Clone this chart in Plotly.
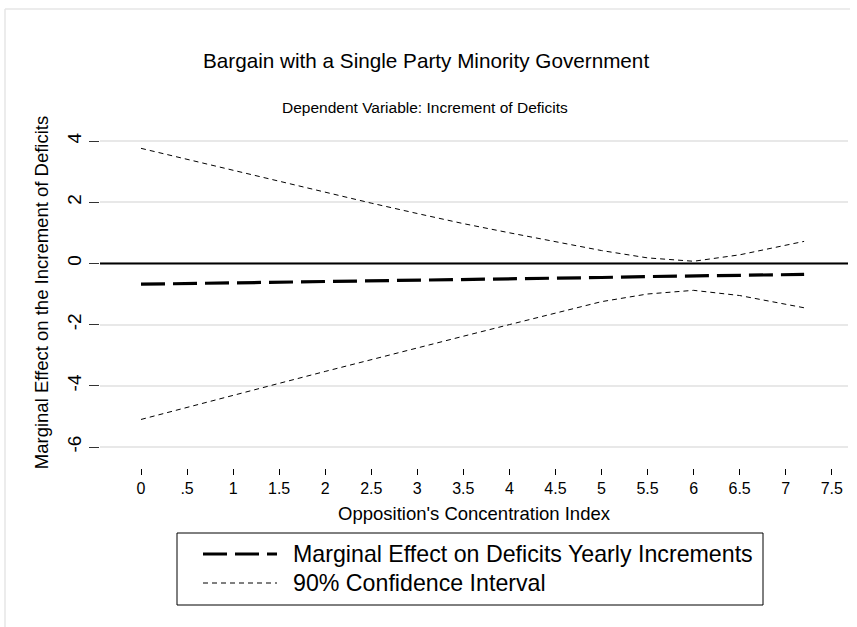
import plotly.graph_objects as go

# Opposition's concentration index (evaluation points)
concentration = [0, 0.5, 1, 1.5, 2, 2.5, 3, 3.5, 4, 4.5, 5, 5.5, 6, 6.5, 7, 7.2]

# Marginal effect on yearly increments of deficits
marginal_effect = [-0.68, -0.66, -0.64, -0.61, -0.59, -0.57, -0.55, -0.52,
                   -0.50, -0.48, -0.46, -0.43, -0.41, -0.39, -0.37, -0.36]

# 90% confidence bounds
ci_upper = [3.76, 3.40, 3.05, 2.70, 2.33, 1.97, 1.63, 1.30,
            1.00, 0.70, 0.42, 0.18, 0.07, 0.28, 0.58, 0.72]
ci_lower = [-5.10, -4.70, -4.30, -3.92, -3.53, -3.14, -2.76, -2.38,
            -2.00, -1.62, -1.25, -1.00, -0.88, -1.05, -1.32, -1.45]

x_ticks = [0, 0.5, 1, 1.5, 2, 2.5, 3, 3.5, 4, 4.5, 5, 5.5, 6, 6.5, 7, 7.5]
x_tick_text = ["0", ".5", "1", "1.5", "2", "2.5", "3", "3.5", "4", "4.5",
               "5", "5.5", "6", "6.5", "7", "7.5"]
y_ticks = [-6, -4, -2, 0, 2, 4]
y_tick_text = ["-6", "-4", "-2", "0", "2", "4"]

legend_labels = ["Marginal Effect on Deficits Yearly Increments",
                 "90% Confidence Interval"]

FONT = "Liberation Sans, Arial, Helvetica, sans-serif"
W, H = 857, 627
L, R, T, B = 100, 9, 117, 159
pw, ph = W - L - R, H - T - B

ME_LINE = dict(color="black", width=3.2, dash="24px,8px")
CI_LINE = dict(color="black", width=1, dash="5px,4px")


def px_x(p):
    return (p - L) / pw


def px_y(p):
    return (H - B - p) / ph


fig = go.Figure()

fig.add_trace(go.Scatter(x=concentration, y=marginal_effect, mode="lines",
                         name=legend_labels[0], line=ME_LINE))
fig.add_trace(go.Scatter(x=concentration, y=ci_upper, mode="lines",
                         name=legend_labels[1], line=CI_LINE))
fig.add_trace(go.Scatter(x=concentration, y=ci_lower, mode="lines",
                         name=legend_labels[1], line=CI_LINE))

# reference line at zero
fig.add_shape(type="line", xref="paper", yref="y", x0=0, x1=1, y0=0, y1=0,
              line=dict(color="black", width=2), layer="above")

# faint outer graph-region border
fig.add_shape(type="line", xref="paper", yref="paper",
              x0=px_x(5), x1=px_x(850), y0=px_y(9), y1=px_y(9),
              line=dict(color="#e6e6e6", width=1.5))
fig.add_shape(type="line", xref="paper", yref="paper",
              x0=px_x(5), x1=px_x(5), y0=px_y(9), y1=px_y(627),
              line=dict(color="#e6e6e6", width=1.5))

# titles
fig.add_annotation(text="Bargain with a Single Party Minority Government",
                   xref="paper", yref="paper", x=px_x(426), y=px_y(47),
                   showarrow=False, font=dict(size=20.7, color="black", family=FONT))
fig.add_annotation(text="Dependent Variable: Increment of Deficits",
                   xref="paper", yref="paper", x=px_x(425), y=px_y(97),
                   showarrow=False, font=dict(size=15.5, color="black", family=FONT))

# legend box drawn below the x axis title
fig.add_shape(type="rect", xref="paper", yref="paper",
              x0=px_x(177), x1=px_x(763), y0=px_y(533), y1=px_y(605),
              line=dict(color="black", width=1), fillcolor="white")
legend_rows = [(554, ME_LINE), (583, CI_LINE)]
for label, (row_y, style) in zip(legend_labels, legend_rows):
    fig.add_shape(type="line", xref="paper", yref="paper",
                  x0=px_x(203), x1=px_x(277), y0=px_y(row_y), y1=px_y(row_y),
                  line=style)
    fig.add_annotation(text=label, xref="paper", yref="paper",
                       x=px_x(291), y=px_y(row_y), xanchor="left", yanchor="middle",
                       showarrow=False, font=dict(size=23.2, color="black", family=FONT))

x_lo = -(141 - L) / 92.1
x_hi = x_lo + pw / 92.1
y_hi = 4 + (141 - T) / 30.6
y_lo = y_hi - ph / 30.6

fig.update_layout(
    width=W, height=H,
    margin=dict(l=L, r=R, t=T, b=B),
    paper_bgcolor="white", plot_bgcolor="white",
    font=dict(family=FONT, color="black"),
    showlegend=False,
    xaxis=dict(
        range=[x_lo, x_hi], tickvals=x_ticks, ticktext=x_tick_text,
        ticks="outside", ticklen=6, tickcolor="black", tickwidth=1,
        showgrid=False, zeroline=False, showline=False,
        tickfont=dict(size=16),
        title=dict(text="Opposition's Concentration Index",
                   font=dict(size=18.5), standoff=10),
    ),
    yaxis=dict(
        range=[y_lo, y_hi], tickvals=y_ticks, ticktext=y_tick_text,
        ticks="outside", ticklen=10, tickcolor="#333333", tickwidth=1,
        tickangle=-90, tickfont=dict(size=19),
        showgrid=True, gridcolor="#e8e8e8", gridwidth=1.5,
        zeroline=False, showline=False,
        title=dict(text="Marginal Effect on the Increment of Deficits",
                   font=dict(size=18.5), standoff=10),
    ),
)

fig.write_html("out.html")
